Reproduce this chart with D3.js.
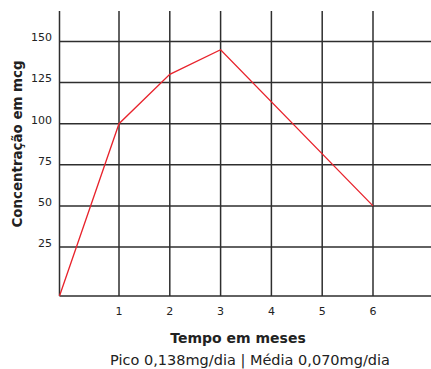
<!DOCTYPE html>
<html>
<head>
<meta charset="utf-8">
<script src="https://cdn.jsdelivr.net/npm/d3@7"></script>
<style>
    body { margin: 0; background: #fff; }
    text { font-family: "DejaVu Sans", sans-serif; fill: #222; }
</style>
</head>
<body>
<div id="chart-area"></div>
<script>
// data
var months = [0, 1, 2, 3, 6];
var concentration = [0, 100, 130, 145, 50];
var xTicks = [1, 2, 3, 4, 5, 6];
var yTicks = [25, 50, 75, 100, 125, 150];
var xTitle = "Tempo em meses";
var yTitle = "Concentração em mcg";
var footNote = "Pico 0,138mg/dia | Média 0,070mg/dia";

var width = 431, height = 369;

var svg = d3.select("#chart-area")
    .append("svg")
        .attr("width", width)
        .attr("height", height);

// the origin sits a bit further out than the regular tick spacing,
// so both scales are polylinear: origin, first tick, last tick
var x = d3.scaleLinear()
    .domain([0, 1, 6])
    .range([59.5, 119, 373]);

var y = d3.scaleLinear()
    .domain([0, 25, 150])
    .range([296, 247, 41.5]);

// (don't call it "top", that's window.top)
var gLeft = x(0), gRight = width, gTop = 11, gBottom = y(0);

var grid = svg.append("g")
    .attr("stroke", "#2e2e2e")
    .attr("stroke-width", 1.5);

// horizontal grid lines
grid.selectAll("line.h")
    .data([0].concat(yTicks))
    .enter()
        .append("line")
        .attr("class", "h")
        .attr("x1", gLeft)
        .attr("x2", gRight)
        .attr("y1", d => y(d))
        .attr("y2", d => y(d));

// vertical grid lines
grid.selectAll("line.v")
    .data([0].concat(xTicks))
    .enter()
        .append("line")
        .attr("class", "v")
        .attr("x1", d => x(d))
        .attr("x2", d => x(d))
        .attr("y1", gTop)
        .attr("y2", gBottom);

// tick labels
svg.selectAll("text.yt")
    .data(yTicks)
    .enter()
        .append("text")
        .attr("class", "yt")
        .attr("x", 52)
        .attr("y", d => y(d) - 4)
        .attr("dy", "0.35em")
        .attr("text-anchor", "end")
        .attr("font-size", 11)
        .text(d => d);

svg.selectAll("text.xt")
    .data(xTicks)
    .enter()
        .append("text")
        .attr("class", "xt")
        .attr("x", d => x(d))
        .attr("y", 311)
        .attr("dy", "0.35em")
        .attr("text-anchor", "middle")
        .attr("font-size", 11)
        .text(d => d);

// the line
var points = months.map((m, i) => [m, concentration[i]]);
var line = d3.line()
    .x(d => x(d[0]))
    .y(d => y(d[1]));

svg.append("path")
    .datum(points)
    .attr("d", line)
    .attr("fill", "none")
    .attr("stroke", "#e8232c")
    .attr("stroke-width", 1.3);

// titles
svg.append("text")
    .attr("x", 238)
    .attr("y", 338)
    .attr("dy", "0.35em")
    .attr("text-anchor", "middle")
    .attr("font-size", 14)
    .attr("font-weight", "bold")
    .text(xTitle);

svg.append("text")
    .attr("transform", "translate(17,144) rotate(-90)")
    .attr("dy", "0.35em")
    .attr("text-anchor", "middle")
    .attr("font-size", 13.4)
    .attr("font-weight", "bold")
    .text(yTitle);

svg.append("text")
    .attr("x", 250)
    .attr("y", 360)
    .attr("dy", "0.35em")
    .attr("text-anchor", "middle")
    .attr("font-size", 14.5)
    .text(footNote);
</script>
</body>
</html>
